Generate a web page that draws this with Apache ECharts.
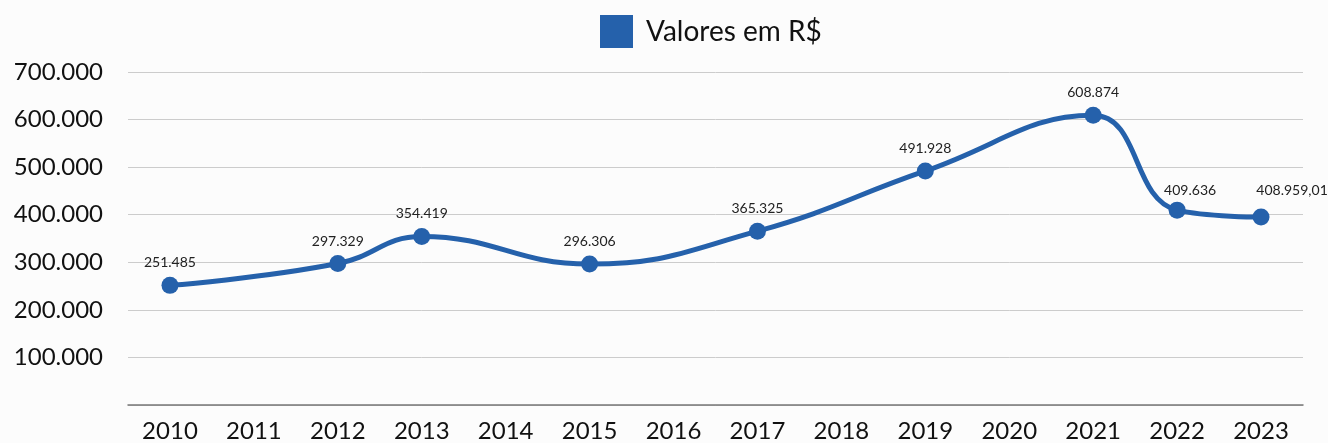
<!DOCTYPE html>
<html>
<head>
<meta charset="utf-8">
<script src="https://cdn.jsdelivr.net/npm/echarts@6/dist/echarts.min.js"></script>
<style>html,body{margin:0;padding:0;background:#fcfcfc}#c{width:1328px;height:443px}</style>
</head>
<body>
<div id="c"></div>
<script>
const categories = ['2010','2011','2012','2013','2014','2015','2016','2017','2018','2019','2020','2021','2022','2023'];
const pointYears = ['2010','2012','2013','2015','2017','2019','2021','2022','2023'];
const pointValues = [251485, 297329, 354419, 296306, 365325, 491928, 608874, 409636, 395000];
const pointLabels = ['251.485','297.329','354.419','296.306','365.325','491.928','608.874','409.636','408.959,01'];
const seriesName = 'Valores em R$';

// label placement tweaks (style only)
const labelOffsets = { '2022': [13, 3], '2023': [31, -4] };

const font = 'Lato, "Noto Sans", sans-serif';
const color = '#2561ab';
const data = pointYears.map((y, i) => ({
  value: [categories.indexOf(y), pointValues[i]],
  label: { formatter: pointLabels[i], offset: labelOffsets[y] || [0, 0] }
}));

const chart = echarts.init(document.getElementById('c'));
chart.setOption({
  backgroundColor: '#fcfcfc',
  animation: false,
  legend: {
    left: 595, top: 10,
    itemWidth: 33, itemHeight: 33, icon: 'rect',
    textStyle: { fontFamily: font, fontSize: 28, color: '#111', padding: [0, 0, 0, 8] },
    data: [{ name: seriesName, icon: 'rect' }]
  },
  grid: { left: 128, right: 25, top: 72, bottom: 37 },
  xAxis: {
    type: 'category', data: categories, boundaryGap: true,
    axisLine: { lineStyle: { color: '#777', width: 1.5 } },
    axisTick: { show: false },
    axisLabel: { fontFamily: font, fontSize: 24, color: '#111', margin: 14 }
  },
  yAxis: {
    type: 'value', min: 0, max: 700000, interval: 100000,
    axisLine: { show: false }, axisTick: { show: false },
    splitLine: { lineStyle: { color: '#cccccc', width: 1 } },
    axisLabel: {
      fontFamily: font, fontSize: 24, color: '#111', margin: 25,
      formatter: v => v === 0 ? '' : (v / 1000).toFixed(0) + '.000'
    }
  },
  series: [{
    name: seriesName, type: 'line', smooth: 0.45,
    data: data,
    symbol: 'circle', symbolSize: 17,
    itemStyle: { color: color },
    lineStyle: { color: color, width: 5 },
    label: { show: true, position: 'top', distance: 7, fontFamily: font, fontSize: 14, color: '#222' }
  }]
});
</script>
</body>
</html>
